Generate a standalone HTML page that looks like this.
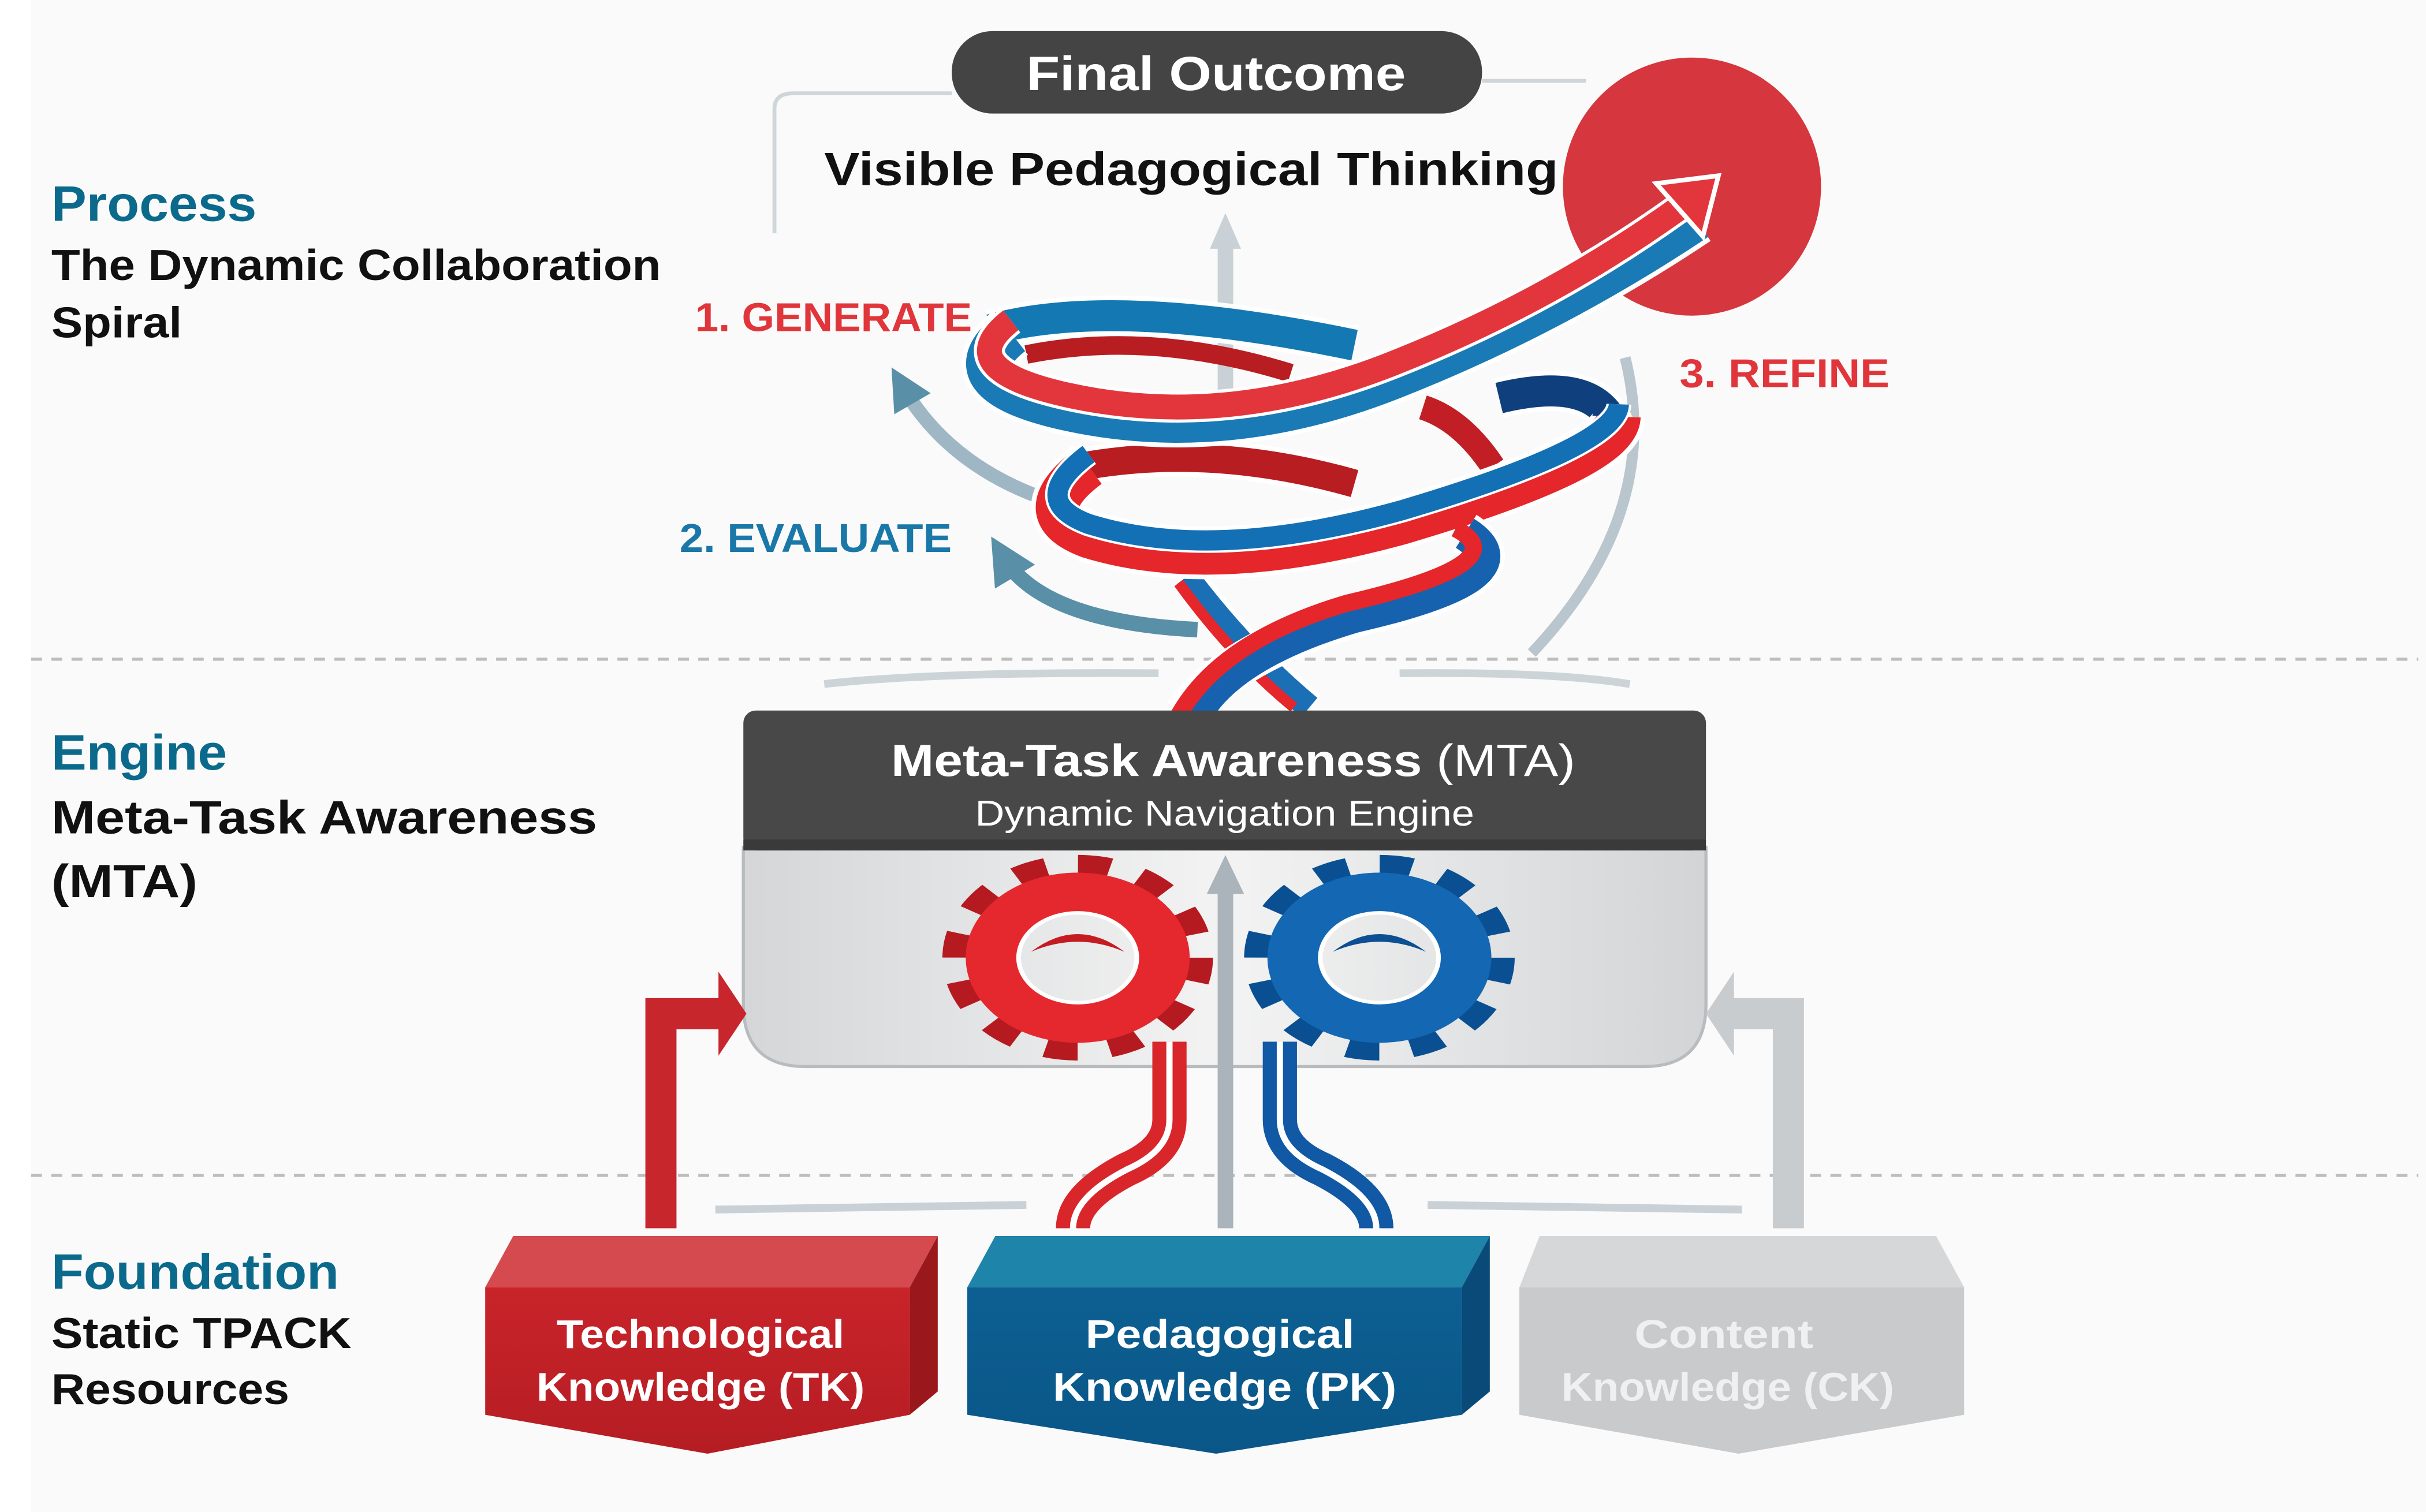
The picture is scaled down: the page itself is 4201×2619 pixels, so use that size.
<!DOCTYPE html>
<html><head><meta charset="utf-8"><style>
html,body{margin:0;padding:0;background:#fafafa;}
svg{display:block;}
text{font-family:"Liberation Sans",sans-serif;font-weight:bold;}
</style></head><body>
<svg width="4201" height="2619" viewBox="0 0 1560 972.5" xmlns="http://www.w3.org/2000/svg">
<defs>
<linearGradient id="body" x1="0" y1="0" x2="1" y2="0">
<stop offset="0" stop-color="#d4d6d8"/><stop offset="0.5" stop-color="#f3f3f3"/><stop offset="1" stop-color="#d2d4d6"/>
</linearGradient>
<linearGradient id="tk" x1="0" y1="0" x2="0" y2="1"><stop offset="0" stop-color="#c8242a"/><stop offset="1" stop-color="#b51d23"/></linearGradient>
<linearGradient id="pk" x1="0" y1="0" x2="0" y2="1"><stop offset="0" stop-color="#0d5f92"/><stop offset="1" stop-color="#0a5688"/></linearGradient>
<marker id="ah" viewBox="0 0 10 10" refX="5" refY="5" markerWidth="3" markerHeight="3" orient="auto"><path d="M0,0L10,5L0,10z" fill="#5a8fa8"/></marker>
</defs>
<rect width="1560" height="972.5" fill="#fafafa"/>
<rect x="0" y="0" width="20" height="972.5" fill="#fff"/>

<line x1="20" y1="424" x2="1555" y2="424" stroke="#bdbdbd" stroke-width="2" stroke-dasharray="7,6"/>
<line x1="20" y1="756" x2="1555" y2="756" stroke="#bdbdbd" stroke-width="2" stroke-dasharray="7,6"/>

<g lengthAdjust="spacingAndGlyphs">
<text x="33" y="142" font-size="32" fill="#0b6a8c" textLength="132" lengthAdjust="spacingAndGlyphs">Process</text>
<text x="33" y="180" font-size="28" fill="#111" textLength="392" lengthAdjust="spacingAndGlyphs">The Dynamic Collaboration</text>
<text x="33" y="217" font-size="28" fill="#111" textLength="84" lengthAdjust="spacingAndGlyphs">Spiral</text>
<text x="33" y="495" font-size="32" fill="#0b6a8c" textLength="113" lengthAdjust="spacingAndGlyphs">Engine</text>
<text x="33" y="536" font-size="30" fill="#111" textLength="351" lengthAdjust="spacingAndGlyphs">Meta-Task Awareness</text>
<text x="33" y="577" font-size="30" fill="#111" textLength="94" lengthAdjust="spacingAndGlyphs">(MTA)</text>
<text x="33" y="829" font-size="32" fill="#0b6a8c" textLength="185" lengthAdjust="spacingAndGlyphs">Foundation</text>
<text x="33" y="867" font-size="28" fill="#111" textLength="193" lengthAdjust="spacingAndGlyphs">Static TPACK</text>
<text x="33" y="903" font-size="28" fill="#111" textLength="153" lengthAdjust="spacingAndGlyphs">Resources</text>
</g>

<path d="M498,150 L498,70 Q498,60 510,60 L612,60" fill="none" stroke="#cfd6da" stroke-width="2.5"/>
<line x1="953" y1="52" x2="1020" y2="52" stroke="#cfd6da" stroke-width="2.5"/>

<rect x="612" y="20" width="341" height="53" rx="26" fill="#444"/>
<text x="660" y="58" font-size="31" fill="#fff" textLength="244" lengthAdjust="spacingAndGlyphs">Final Outcome</text>
<circle cx="1088" cy="120" r="83" fill="#d6363d"/>
<text x="530" y="119" font-size="30" fill="#111" textLength="472" lengthAdjust="spacingAndGlyphs">Visible Pedagogical Thinking</text>

<line x1="788" y1="300" x2="788" y2="155" stroke="#c9d1d6" stroke-width="10"/>
<path d="M778,160 L788,137 L798,160z" fill="#c9d1d6"/>

<path d="M675,322 Q610,300 580,248" fill="none" stroke="#9fb7c4" stroke-width="9" marker-end="url(#ah)"/>
<path d="M770,405 Q670,400 645,358" fill="none" stroke="#5a8fa8" stroke-width="10" marker-end="url(#ah)"/>
<path d="M1045,230 Q1070,330 985,420" fill="none" stroke="#b9c6ce" stroke-width="7"/>

<text x="447" y="213" font-size="26" fill="#e0353a" textLength="178" lengthAdjust="spacingAndGlyphs">1. GENERATE</text>
<text x="1080" y="249" font-size="26" fill="#e0353a" textLength="135" lengthAdjust="spacingAndGlyphs">3. REFINE</text>
<text x="437" y="355" font-size="26" fill="#1a78a8" textLength="175" lengthAdjust="spacingAndGlyphs">2. EVALUATE</text>

<g fill="none" stroke-linecap="butt">
<path d="M763,371 Q800,420 842,455" stroke="#fff" stroke-width="22"/>
<path d="M763,371 Q800,420 842,455" stroke="#1a6fb5" stroke-width="16"/>
<path d="M758,375 Q792,422 832,455" stroke="#e5262b" stroke-width="7"/>
<path d="M637,212 Q717,190 871,222" stroke="#fff" stroke-width="26"/>
<path d="M637,212 Q717,190 871,222" stroke="#1479b3" stroke-width="20"/>
<path d="M660,228 Q740,212 830,240" stroke="#b81d22" stroke-width="12"/>
<path d="M696,300 Q779,285 871,311" stroke="#fff" stroke-width="24"/>
<path d="M696,300 Q779,285 871,311" stroke="#b81d22" stroke-width="18"/>
<path d="M964,256 Q1030,240 1040,280" stroke="#fff" stroke-width="26"/>
<path d="M964,256 Q1030,240 1040,280" stroke="#0f3f7c" stroke-width="20"/>
<path d="M915,262 Q940,270 960,300" stroke="#c11f25" stroke-width="16"/>
<path d="M700,300 Q660,330 700,345 Q780,370 902,336 Q1040,295 1041,268" stroke="#fff" stroke-width="34"/>
<path d="M700,300 Q660,330 700,345 Q780,370 902,336 Q1040,295 1041,268" stroke="#e5262b" stroke-width="28"/>
<path d="M700,292 Q660,322 700,337 Q780,362 902,328 Q1040,287 1041,260" stroke="#fff" stroke-width="16"/>
<path d="M700,292 Q660,322 700,337 Q780,362 902,328 Q1040,287 1041,260" stroke="#1470b5" stroke-width="13"/>
<path d="M942,343 Q985,370 871,396 Q790,420 762,460" stroke="#fff" stroke-width="28"/>
<path d="M942,343 Q985,370 871,396 Q790,420 768,460" stroke="#1762ae" stroke-width="22"/>
<path d="M936,340 Q978,362 866,388 Q785,412 758,460" stroke="#e5262b" stroke-width="11"/>
<path d="M650,214 Q610,245 686,262 Q790,285 900,240 Q1000,200 1090,140" stroke="#fff" stroke-width="36"/>
<path d="M650,214 Q610,245 686,262 Q790,285 900,240 Q1000,200 1090,140" stroke="#1a7ab5" stroke-width="30"/>
<path d="M650,206 Q610,237 686,254 Q790,277 900,232 Q1000,192 1085,130" stroke="#fff" stroke-width="20"/>
<path d="M650,206 Q610,237 686,254 Q790,277 900,232 Q1000,192 1085,130" stroke="#e3363c" stroke-width="16"/>
</g>
<path d="M1065,118 L1105,113 L1095,152 z" fill="#e3363c" stroke="#fff" stroke-width="3"/>

<path d="M530,440 Q600,432 745,433" fill="none" stroke="#ccd4d8" stroke-width="5"/>
<path d="M900,433 Q1000,432 1048,440" fill="none" stroke="#ccd4d8" stroke-width="5"/>

<path d="M478,545 L1097,545 L1097,646 Q1097,686 1057,686 L518,686 Q478,686 478,646 Z" fill="url(#body)" stroke="#b8bcbf" stroke-width="2"/>
<rect x="478" y="457" width="619" height="90" rx="8" fill="#484848"/>
<rect x="478" y="540" width="619" height="7" fill="#3a3a3a"/>
<text x="573" y="499" font-size="29" fill="#fff" textLength="440" lengthAdjust="spacingAndGlyphs">Meta-Task Awareness <tspan font-weight="normal">(MTA)</tspan></text>
<text x="627" y="531" font-size="23" fill="#fff" style="font-weight:normal" textLength="321" lengthAdjust="spacingAndGlyphs">Dynamic Navigation Engine</text>

<g transform="translate(693,616) scale(1,0.76)">
<circle r="76" fill="none" stroke="#b51a20" stroke-width="22" stroke-dasharray="20,19.8"/>
<circle r="55" fill="none" stroke="#e5282e" stroke-width="34"/>
<circle r="38" fill="none" stroke="#fff" stroke-width="3"/>
<path d="M-30,-5 Q0,-35 30,-5 Q0,-22 -30,-5z" fill="#c41c22"/>
</g>
<g transform="translate(887,616) scale(1,0.76)">
<circle r="76" fill="none" stroke="#0a4f92" stroke-width="22" stroke-dasharray="20,19.8"/>
<circle r="55" fill="none" stroke="#1367b3" stroke-width="34"/>
<circle r="38" fill="none" stroke="#fff" stroke-width="3"/>
<path d="M-30,-5 Q0,-35 30,-5 Q0,-22 -30,-5z" fill="#0c4f92"/>
</g>

<g fill="none">
<path d="M752,670 L752,720 Q752,740 725,752 Q690,770 690,790" stroke="#d8262b" stroke-width="22"/>
<path d="M752,670 L752,720 Q752,740 725,752 Q690,770 690,790" stroke="#fff" stroke-width="4"/>
<path d="M823,670 L823,720 Q823,740 850,752 Q885,770 885,790" stroke="#1158a5" stroke-width="22"/>
<path d="M823,670 L823,720 Q823,740 850,752 Q885,770 885,790" stroke="#fff" stroke-width="4"/>
</g>
<line x1="788" y1="790" x2="788" y2="570" stroke="#aab4ba" stroke-width="10"/>
<path d="M776,575 L788,550 L800,575z" fill="#aab4ba"/>
<path d="M425,790 L425,652 L465,652" fill="none" stroke="#c6262c" stroke-width="20"/>
<path d="M462,625 L480,652 L462,679z" fill="#c6262c"/>
<path d="M1150,790 L1150,652 L1112,652" fill="none" stroke="#c9cccf" stroke-width="20"/>
<path d="M1115,625 L1097,652 L1115,679z" fill="#c9cccf"/>
<path d="M460,778 L660,775" stroke="#c9d1d6" stroke-width="5"/>
<path d="M918,775 L1120,778" stroke="#c9d1d6" stroke-width="5"/>

<g>
<path d="M312,828 L330,795 L603,795 L585,828 Z" fill="#d44a4e"/>
<path d="M585,828 L603,795 L603,895 L585,910 Z" fill="#9a171c"/>
<path d="M312,828 L585,828 L585,910 L455,935 L312,910 Z" fill="url(#tk)"/>
<text x="358" y="867" font-size="26" fill="#fff" textLength="185" lengthAdjust="spacingAndGlyphs">Technological</text>
<text x="345" y="901" font-size="26" fill="#fff" textLength="211" lengthAdjust="spacingAndGlyphs">Knowledge (TK)</text>

<path d="M622,828 L640,795 L958,795 L940,828 Z" fill="#1f84aa"/>
<path d="M940,828 L958,795 L958,895 L940,910 Z" fill="#0a4a78"/>
<path d="M622,828 L940,828 L940,910 L782,935 L622,910 Z" fill="url(#pk)"/>
<text x="698" y="867" font-size="26" fill="#fff" textLength="173" lengthAdjust="spacingAndGlyphs">Pedagogical</text>
<text x="677" y="901" font-size="26" fill="#fff" textLength="221" lengthAdjust="spacingAndGlyphs">Knowledge (PK)</text>

<path d="M977,828 L990,795 L1245,795 L1263,828 Z" fill="#d6d7d9"/>
<path d="M977,828 L1263,828 L1263,910 L1118,935 L977,910 Z" fill="#c9cacc"/>
<text x="1051" y="867" font-size="26" fill="#eef0f2" textLength="115" lengthAdjust="spacingAndGlyphs">Content</text>
<text x="1004" y="901" font-size="26" fill="#eef0f2" textLength="214" lengthAdjust="spacingAndGlyphs">Knowledge (CK)</text>
</g>
</svg>
</body></html>
